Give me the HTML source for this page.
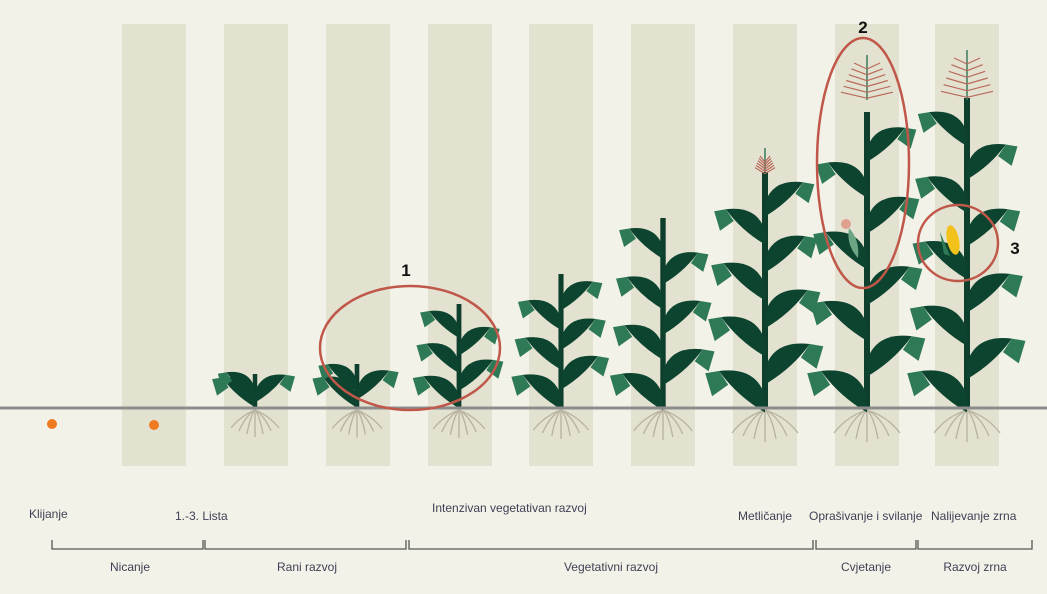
<!DOCTYPE html>
<html><head><meta charset="utf-8"><style>
body{margin:0;background:#f3f2e8;}
svg{display:block;font-family:"Liberation Sans",sans-serif;}
</style></head><body>
<svg id="s" width="1047" height="594" viewBox="0 0 1047 594">
<rect width="1047" height="594" fill="#f3f2e8"/>
<g fill="#e3e2d1">
<rect x="122" y="24" width="64" height="442"/><rect x="224" y="24" width="64" height="442"/>
<rect x="326" y="24" width="64" height="442"/><rect x="428" y="24" width="64" height="442"/>
<rect x="529" y="24" width="64" height="442"/><rect x="631" y="24" width="64" height="442"/>
<rect x="733" y="24" width="64" height="442"/><rect x="835" y="24" width="64" height="442"/>
<rect x="935" y="24" width="64" height="442"/>
</g>
<g id="plants"></g>
<line x1="0" y1="408" x2="1047" y2="408" stroke="#8c8c8c" stroke-width="3"/>
<circle cx="52" cy="424" r="5" fill="#ee7a22"/>
<circle cx="154" cy="425" r="5" fill="#ee7a22"/>
<g fill="none" stroke="#c0584a" stroke-width="2.5">
<ellipse cx="410" cy="348" rx="90" ry="62"/>
<ellipse cx="863" cy="163" rx="46" ry="125"/>
<ellipse cx="958" cy="243" rx="40" ry="38"/>
</g>
<g font-size="17" fill="#111" text-anchor="middle" font-weight="bold">
<text x="406" y="276">1</text><text x="863" y="33">2</text><text x="1015" y="254">3</text>
</g>
<g font-size="12" fill="#3f3f55">
<text x="29" y="518">Klijanje</text>
<text x="175" y="520">1.-3. Lista</text>
<text x="432" y="512">Intenzivan vegetativan razvoj</text>
<text x="738" y="520">Metličanje</text>
<text x="809" y="520">Oprašivanje i svilanje</text>
<text x="931" y="520">Nalijevanje zrna</text>
</g>
<g fill="none" stroke="#555" stroke-width="1.3">
<path d="M52 540V549H203V540M205 540V549H406V540M409 540V549H813V540M816 540V549H916V540M918 540V549H1032V540"/>
</g>
<g font-size="12" fill="#3f3f55" text-anchor="middle">
<text x="130" y="571">Nicanje</text><text x="307" y="571">Rani razvoj</text>
<text x="611" y="571">Vegetativni razvoj</text><text x="866" y="571">Cvjetanje</text><text x="975" y="571">Razvoj zrna</text>
</g>
</svg>
<script>
var g=document.getElementById('plants'),h='';
var P=[[255,374,3,0.5,0],[357,364,3,0.55,0],[459,304,5,0.6,0],[561,274,6,0.7,0],[663,218,7,0.8,0],[765,172,8,1,1],[867,112,8,1,2],[967,98,9,1,3]];
P.forEach(function(p){
 var x=p[0],top=p[1],n=p[2],s=p[3],base=408;
 var rl=5+6*s, rd=22+10*s;
 for(var i=-3;i<=3;i++){h+='<path d="M'+x+' 410 Q'+(x+i*rl*0.6)+' 416 '+(x+i*rl)+' '+(410+rd-Math.abs(i)*3)+'" stroke="#b9b5a2" stroke-width="1.4" fill="none"/>';}
 h+='<line x1="'+x+'" y1="408" x2="'+x+'" y2="'+(top)+'" stroke="#0d3f2c" stroke-width="'+(3+3*s)+'"/>';
 var L=(20+26*s);
 for(var k=0;k<n;k++){
  var y=base-14-(base-14-top-10)*(k/(n-0.3));
  var d=(k%2?1:-1); var len=L*(1-0.2*k/n);
  var tx=x+d*len, ty=y-len*0.5;
  h+='<path d="M'+x+' '+(y+2)+' Q'+(x+d*len*0.2)+' '+(y-len*0.6)+' '+tx+' '+ty+' Q'+(x+d*len*0.6)+' '+(y+len*0.05)+' '+x+' '+(y+len*0.4)+'Z" fill="#0d4430"/>';
  h+='<path d="M'+tx+' '+ty+' L'+(tx+d*len*0.3)+' '+(ty+len*0.05)+' L'+(tx+d*len*0.15)+' '+(ty+len*0.55)+' L'+(tx-d*len*0.2)+' '+(ty+len*0.3)+'Z" fill="#2f7a56"/>';
 }
 if(p[4]){
  var tt=p[4]==1?148:(p[4]==2?55:50), tb=p[4]==1?172:100, w=p[4]==1?10:26;
  h+='<line x1="'+x+'" y1="'+tb+'" x2="'+x+'" y2="'+tt+'" stroke="#3b7a5a" stroke-width="1.5"/>';
  for(var j=0;j<6;j++){var yy=tt+8+j*(tb-tt-10)/6;
   h+='<line x1="'+x+'" y1="'+(yy+6)+'" x2="'+(x-w*(0.5+j*0.1))+'" y2="'+yy+'" stroke="#b96a5a" stroke-width="1.2"/><line x1="'+x+'" y1="'+(yy+6)+'" x2="'+(x+w*(0.5+j*0.1))+'" y2="'+yy+'" stroke="#b96a5a" stroke-width="1.2"/>';}
 }
 if(p[4]==2){h+='<path d="M849 228 Q846 245 858 258 Q860 240 849 228Z" fill="#6aa684"/><circle cx="846" cy="224" r="5" fill="#e0a090"/>';}
 if(p[4]==3){h+='<ellipse cx="953" cy="240" rx="6" ry="15" transform="rotate(-12 953 240)" fill="#f2c21a"/><path d="M940 232 L950 256 L944 254Z" fill="#2f7a56"/>';}
});
g.innerHTML=h;
</script>
</body></html>
